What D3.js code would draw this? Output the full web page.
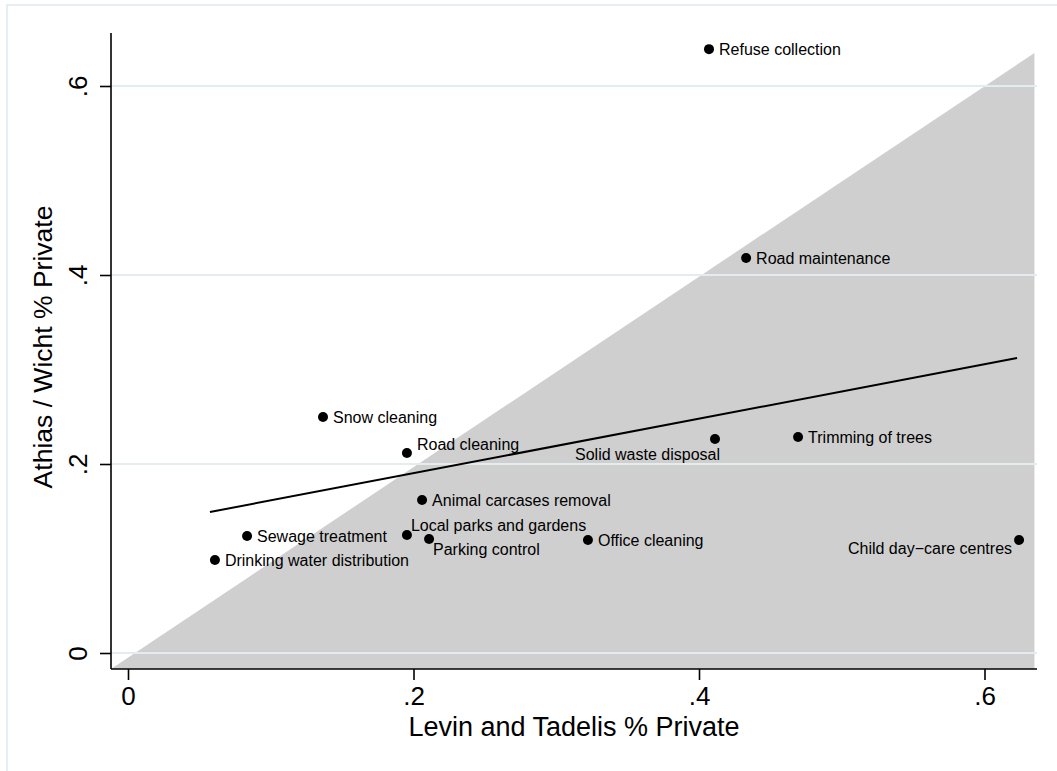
<!DOCTYPE html>
<html>
<head>
<meta charset="utf-8">
<script src="https://cdn.jsdelivr.net/npm/d3@7"></script>
<style>
  html, body { margin: 0; padding: 0; background: #fff; }
  svg { display: block; font-family: "Liberation Sans", Arial, sans-serif; }
</style>
</head>
<body>
<svg id="chart" width="1057" height="771"></svg>
<script>
// Services: share privately provided in two surveys
const services = [
  "Refuse collection", "Road maintenance", "Snow cleaning", "Road cleaning",
  "Solid waste disposal", "Trimming of trees", "Animal carcases removal",
  "Sewage treatment", "Local parks and gardens", "Parking control",
  "Office cleaning", "Child day\u2212care centres", "Drinking water distribution"
];
const levinTadelis = [0.407, 0.433, 0.1366, 0.1954, 0.4112, 0.4694, 0.206,
                      0.0834, 0.1954, 0.2109, 0.3222, 0.6242, 0.0609];
const athiasWicht  = [0.639, 0.418, 0.2497, 0.2116, 0.2265, 0.2286, 0.1619,
                      0.1238, 0.1249, 0.1206, 0.1196, 0.1196, 0.0984];
// marker label clock positions (3 = right of marker)
const labelClock   = [3, 3, 3, 2, 7, 3, 3, 3, 1, 5, 3, 8, 3];

// Linear fit endpoints
const fitX = [0.0574, 0.6228];
const fitY = [0.1492, 0.3122];

// 45-degree reference region end
const diagEnd = 0.635;

const xTicks = [0, 0.2, 0.4, 0.6];
const yTicks = [0, 0.2, 0.4, 0.6];
const tickFmt = v => v === 0 ? "0" : d3.format(".1f")(v).replace(/^0/, "");

const svg = d3.select("#chart");

// outer graph-region frame
svg.append("path")
  .attr("d", "M7,771 L7,5 L1057,5")
  .attr("fill", "none").attr("stroke", "#e6eef1").attr("stroke-width", 2);

const plotLeft = 111, plotRight = 1037, plotTop = 33, plotBottom = 669;
const x = d3.scaleLinear().domain([0, 0.6]).range([128, 128 + 0.6 * 1427.5]);
const y = d3.scaleLinear().domain([0, 0.6]).range([653, 653 - 0.6 * 945]);
const xMin = x.invert(plotLeft), yMin = y.invert(plotBottom);

// shaded region below the 45-degree line
svg.append("path")
  .datum([[xMin, yMin], [diagEnd, diagEnd], [diagEnd, yMin]])
  .attr("d", d3.line().x(d => x(d[0])).y(d => y(d[1])))
  .attr("fill", "#cfcfcf");

// horizontal gridlines
svg.append("g").selectAll("line").data(yTicks).join("line")
  .attr("x1", plotLeft).attr("x2", plotRight)
  .attr("y1", d => y(d)).attr("y2", d => y(d))
  .attr("stroke", "#e3ecef").attr("stroke-width", 2);

// fitted line
svg.append("path")
  .datum(d3.zip(fitX, fitY))
  .attr("d", d3.line().x(d => x(d[0])).y(d => y(d[1])))
  .attr("fill", "none").attr("stroke", "#000").attr("stroke-width", 2);

// y axis
const yAxis = svg.append("g").attr("transform", `translate(${plotLeft},0)`)
  .call(d3.axisLeft(y).tickValues(yTicks).tickFormat(tickFmt).tickSize(11).tickPadding(0));
yAxis.select(".domain").attr("d", `M0,${plotTop}V${plotBottom}`).attr("stroke-width", 1.6);
yAxis.selectAll(".tick line").attr("stroke-width", 1.6);
yAxis.selectAll(".tick text")
  .attr("font-size", 26).attr("fill", "#000")
  .attr("text-anchor", "middle").attr("dy", null)
  .attr("x", null)
  .attr("transform", "translate(-24,0) rotate(-90)");

// x axis
const xAxis = svg.append("g").attr("transform", `translate(0,${plotBottom})`)
  .call(d3.axisBottom(x).tickValues(xTicks).tickFormat(tickFmt).tickSize(11).tickPadding(0));
xAxis.select(".domain").attr("d", `M${plotLeft},0H${plotRight}`).attr("stroke-width", 1.6);
xAxis.selectAll(".tick line").attr("stroke-width", 1.6);
xAxis.selectAll(".tick text")
  .attr("font-size", 26).attr("fill", "#000")
  .attr("y", 36).attr("dy", null);

svg.selectAll(".tick text").attr("font-family", "Liberation Sans, Arial, sans-serif");

// axis titles
svg.append("text")
  .attr("x", 574).attr("y", 736)
  .attr("text-anchor", "middle").attr("font-size", 27)
  .text("Levin and Tadelis % Private");
svg.append("text")
  .attr("transform", "translate(52,347) rotate(-90)")
  .attr("text-anchor", "middle").attr("font-size", 26.5)
  .text("Athias / Wicht % Private");

// markers and labels
const pts = services.map((s, i) => ({
  name: s, vx: levinTadelis[i], vy: athiasWicht[i], clock: labelClock[i]
}));
const offsets = {
  3: { dx: 10, dy: 0, anchor: "start" },
  2: { dx: 10, dy: -9, anchor: "start" },
  1: { dx: 4, dy: -10, anchor: "start" },
  5: { dx: 4, dy: 10, anchor: "start" },
  7: { dx: 5, dy: 15, anchor: "end" },
  8: { dx: -7, dy: 8, anchor: "end" }
};

svg.append("g").selectAll("circle").data(pts).join("circle")
  .attr("cx", d => x(d.vx)).attr("cy", d => y(d.vy))
  .attr("r", 5).attr("fill", "#000");

svg.append("g").selectAll("text").data(pts).join("text")
  .attr("x", d => x(d.vx) + offsets[d.clock].dx)
  .attr("y", d => y(d.vy) + offsets[d.clock].dy)
  .attr("dy", "0.35em")
  .attr("text-anchor", d => offsets[d.clock].anchor)
  .attr("font-size", 16).attr("fill", "#000")
  .text(d => d.name);
</script>
</body>
</html>
